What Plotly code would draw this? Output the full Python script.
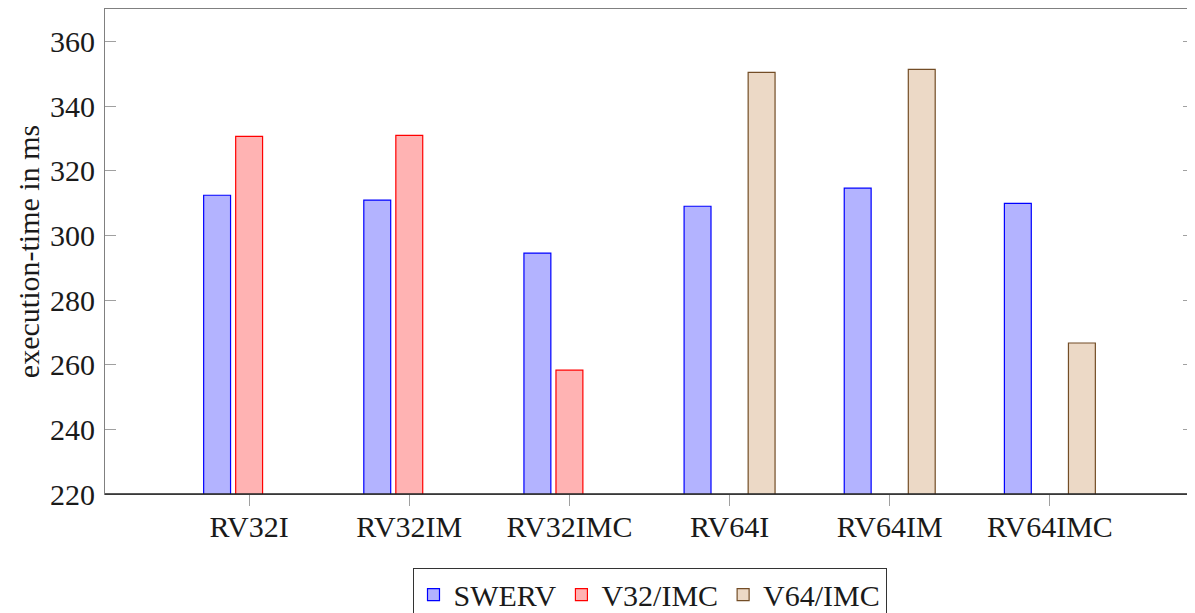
import plotly.graph_objects as go

categories = ["RV32I", "RV32IM", "RV32IMC", "RV64I", "RV64IM", "RV64IMC"]
swerv = [312.4, 310.9, 294.5, 309.0, 314.6, 309.9]
v32_imc = [330.6, 330.9, 258.3, None, None, None]
v64_imc = [None, None, None, 350.4, 351.3, 266.7]
y_ticks = [220, 240, 260, 280, 300, 320, 340, 360]

FONT = "Liberation Serif"
FS = 30

fig = go.Figure()
fig.add_trace(go.Bar(x=categories, y=swerv, name="SWERV",
                     marker=dict(color="rgb(179,179,255)", line=dict(color="rgb(0,0,255)", width=1.2))))
fig.add_trace(go.Bar(x=categories, y=v32_imc, name="V32/IMC",
                     marker=dict(color="rgb(255,179,179)", line=dict(color="rgb(255,0,0)", width=1.2))))
fig.add_trace(go.Bar(x=categories, y=v64_imc, name="V64/IMC",
                     marker=dict(color="rgb(236,217,198)", line=dict(color="rgb(115,77,38)", width=1.2))))

fig.update_layout(
    width=1187, height=605,
    margin=dict(l=97, r=1, t=1, b=119, autoexpand=False),
    paper_bgcolor="white", plot_bgcolor="white",
    barmode="group", bargap=0.4, bargroupgap=0.16,
    font=dict(family=FONT, size=FS, color="#1a1a1a"),
    showlegend=True,
    legend=dict(orientation="h", x=0.5, xanchor="center", y=-0.152, yanchor="top",
                bordercolor="#333333", borderwidth=1, bgcolor="white",
                font=dict(family=FONT, size=FS), itemwidth=30, tracegroupgap=0),
    xaxis=dict(range=[-0.9, 5.9], showline=True, linecolor="#808080", linewidth=1.2,
               mirror="allticks", ticks="outside", ticklen=11, tickcolor="#a0a0a0",
               tickwidth=1, showgrid=False, zeroline=False, automargin=False,
               ticklabelstandoff=-5,
               tickfont=dict(family=FONT, size=FS)),
    yaxis=dict(range=[220, 370], tickvals=y_ticks, showline=True, linecolor="#808080",
               linewidth=1.2, mirror="allticks", ticks="inside", ticklen=11,
               tickcolor="#a0a0a0", tickwidth=1, showgrid=False, zeroline=False,
               ticklabelstandoff=3, automargin=False,
               title=dict(text="execution-time in ms", standoff=1,
                          font=dict(family=FONT, size=FS)),
               tickfont=dict(family=FONT, size=FS)),
)
fig.add_shape(type="line", xref="paper", yref="paper", x0=0, x1=1, y0=0, y1=0,
              line=dict(color="#222222", width=1.3))

fig.write_html("out.html")
